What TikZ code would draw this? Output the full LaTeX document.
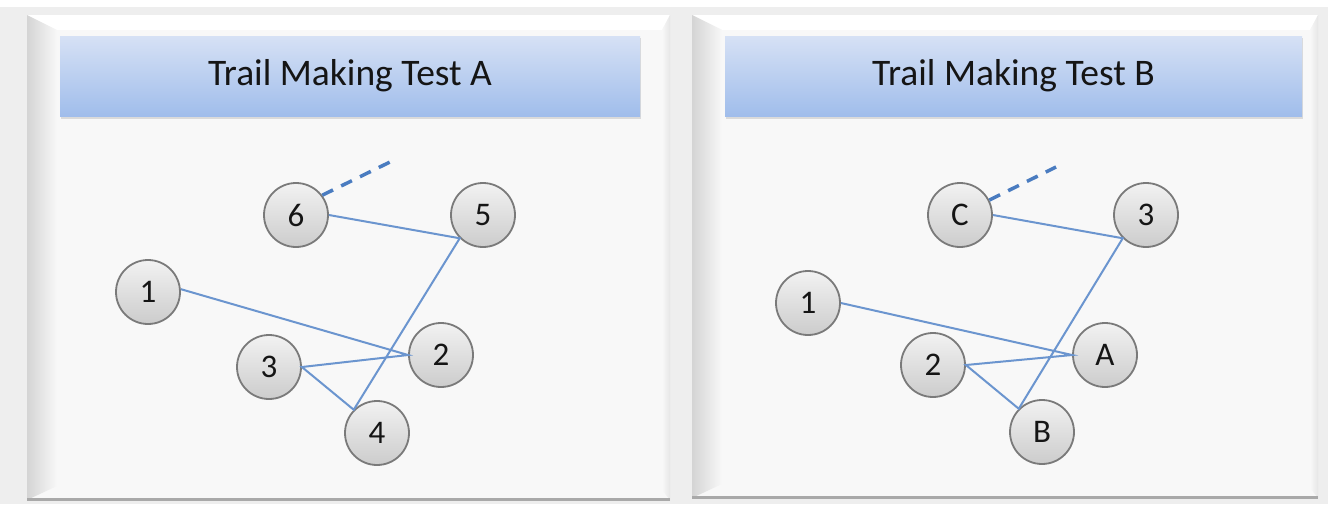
\documentclass[tikz,border=0pt]{standalone}
\usepackage{fontspec}
\setmainfont{Carlito}
\definecolor{bgc}{HTML}{EEEEEE}
\definecolor{panelc}{HTML}{F8F8F8}
\definecolor{bevelc}{HTML}{D4D4D4}
\definecolor{bevelr}{HTML}{E6E6E6}
\definecolor{edgeln}{HTML}{A9A9A9}
\definecolor{hdtop}{HTML}{D6E1F5}
\definecolor{hdbot}{HTML}{A0BDEB}
\definecolor{nodetop}{HTML}{F2F2F2}
\definecolor{nodebot}{HTML}{CCCCCC}
\definecolor{noderim}{HTML}{7A7A7A}
\definecolor{trailc}{HTML}{6B95CF}
\definecolor{dashc}{HTML}{4A7CC0}
\definecolor{textc}{HTML}{151515}
\tikzset{
  trailnode/.style={circle, minimum size=64pt, inner sep=0pt, draw=noderim, line width=1.8pt,
    top color=nodetop, bottom color=nodebot, text=textc,
    font=\fontsize{33}{36}\selectfont},
  header/.style={minimum height=80pt, inner sep=0pt,
    top color=hdtop, bottom color=hdbot, text=textc,
    font=\fontsize{37.5}{40}\selectfont},
  trail/.style={draw=trailc, line width=2pt},
  trailnext/.style={draw=dashc, line width=3.5pt, dash pattern=on 12pt off 9pt},
}
\begin{document}
\begin{tikzpicture}[x=1pt,y=-1pt]
\useasboundingbox (0,0) rectangle (1328,504);
% background
\fill[bgc] (0,0) rectangle (1328,504);
\fill[white] (0,0) rectangle (1328,7);
% panels
\foreach \xa/\xb/\yb in {27/670/500, 692/1318/498}{
  \fill[panelc] (\xa,15) rectangle (\xb,\yb);
  \fill[white] (\xa,15) -- (\xb,15) -- (\xb-8,30) -- (\xa+30,30) -- cycle;
  \shade[left color=bevelc, right color=panelc] (\xa,15) -- (\xa+30,30) -- (\xa+30,\yb-14) -- (\xa,\yb) -- cycle;
  \shade[left color=panelc, right color=bevelr] (\xb-8,30) -- (\xb,15) -- (\xb,\yb) -- (\xb-8,\yb-10) -- cycle;
  \fill[edgeln] (\xa,\yb-2) rectangle (\xb,\yb+1);
}
% headers
\fill[gray!45, opacity=0.6] (61,38) rectangle (641,119);
\fill[gray!45, opacity=0.6] (726,38) rectangle (1303,119);
\node[header, minimum width=580pt] (ha) at (350,76) {Trail Making Test A};
\node[header, minimum width=577pt] (hb) at (1013.5,76) {Trail Making Test B};
% Test A nodes
\node[trailnode] (a1) at (148,292) {1};
\node[trailnode] (a2) at (441,355) {2};
\node[trailnode] (a3) at (269,367) {3};
\node[trailnode] (a4) at (377,433) {4};
\node[trailnode] (a5) at (483,215) {5};
\node[trailnode] (a6) at (296,215) {6};
\coordinate (anext) at (390,162);
% Test B nodes
\node[trailnode] (b1) at (808,303) {1};
\node[trailnode] (bA) at (1105,355) {A};
\node[trailnode] (b2) at (933,365) {2};
\node[trailnode] (bB) at (1042,432) {B};
\node[trailnode] (b3) at (1146,215) {3};
\node[trailnode] (bC) at (960,215) {C};
\coordinate (bnext) at (1056,167);
% Test A trail
\draw[trail] (a1.5) -- (a2.west) -- (a3.east) -- (a4.north west) -- (a5.south west) -- (a6.east);
\draw[trailnext] (a6.37) -- (anext);
% Test B trail
\draw[trail] (b1.east) -- (bA.west) -- (b2.east) -- (bB.north west) -- (b3.south west) -- (bC.east);
\draw[trailnext] (bC.27) -- (bnext);
\end{tikzpicture}
\end{document}
